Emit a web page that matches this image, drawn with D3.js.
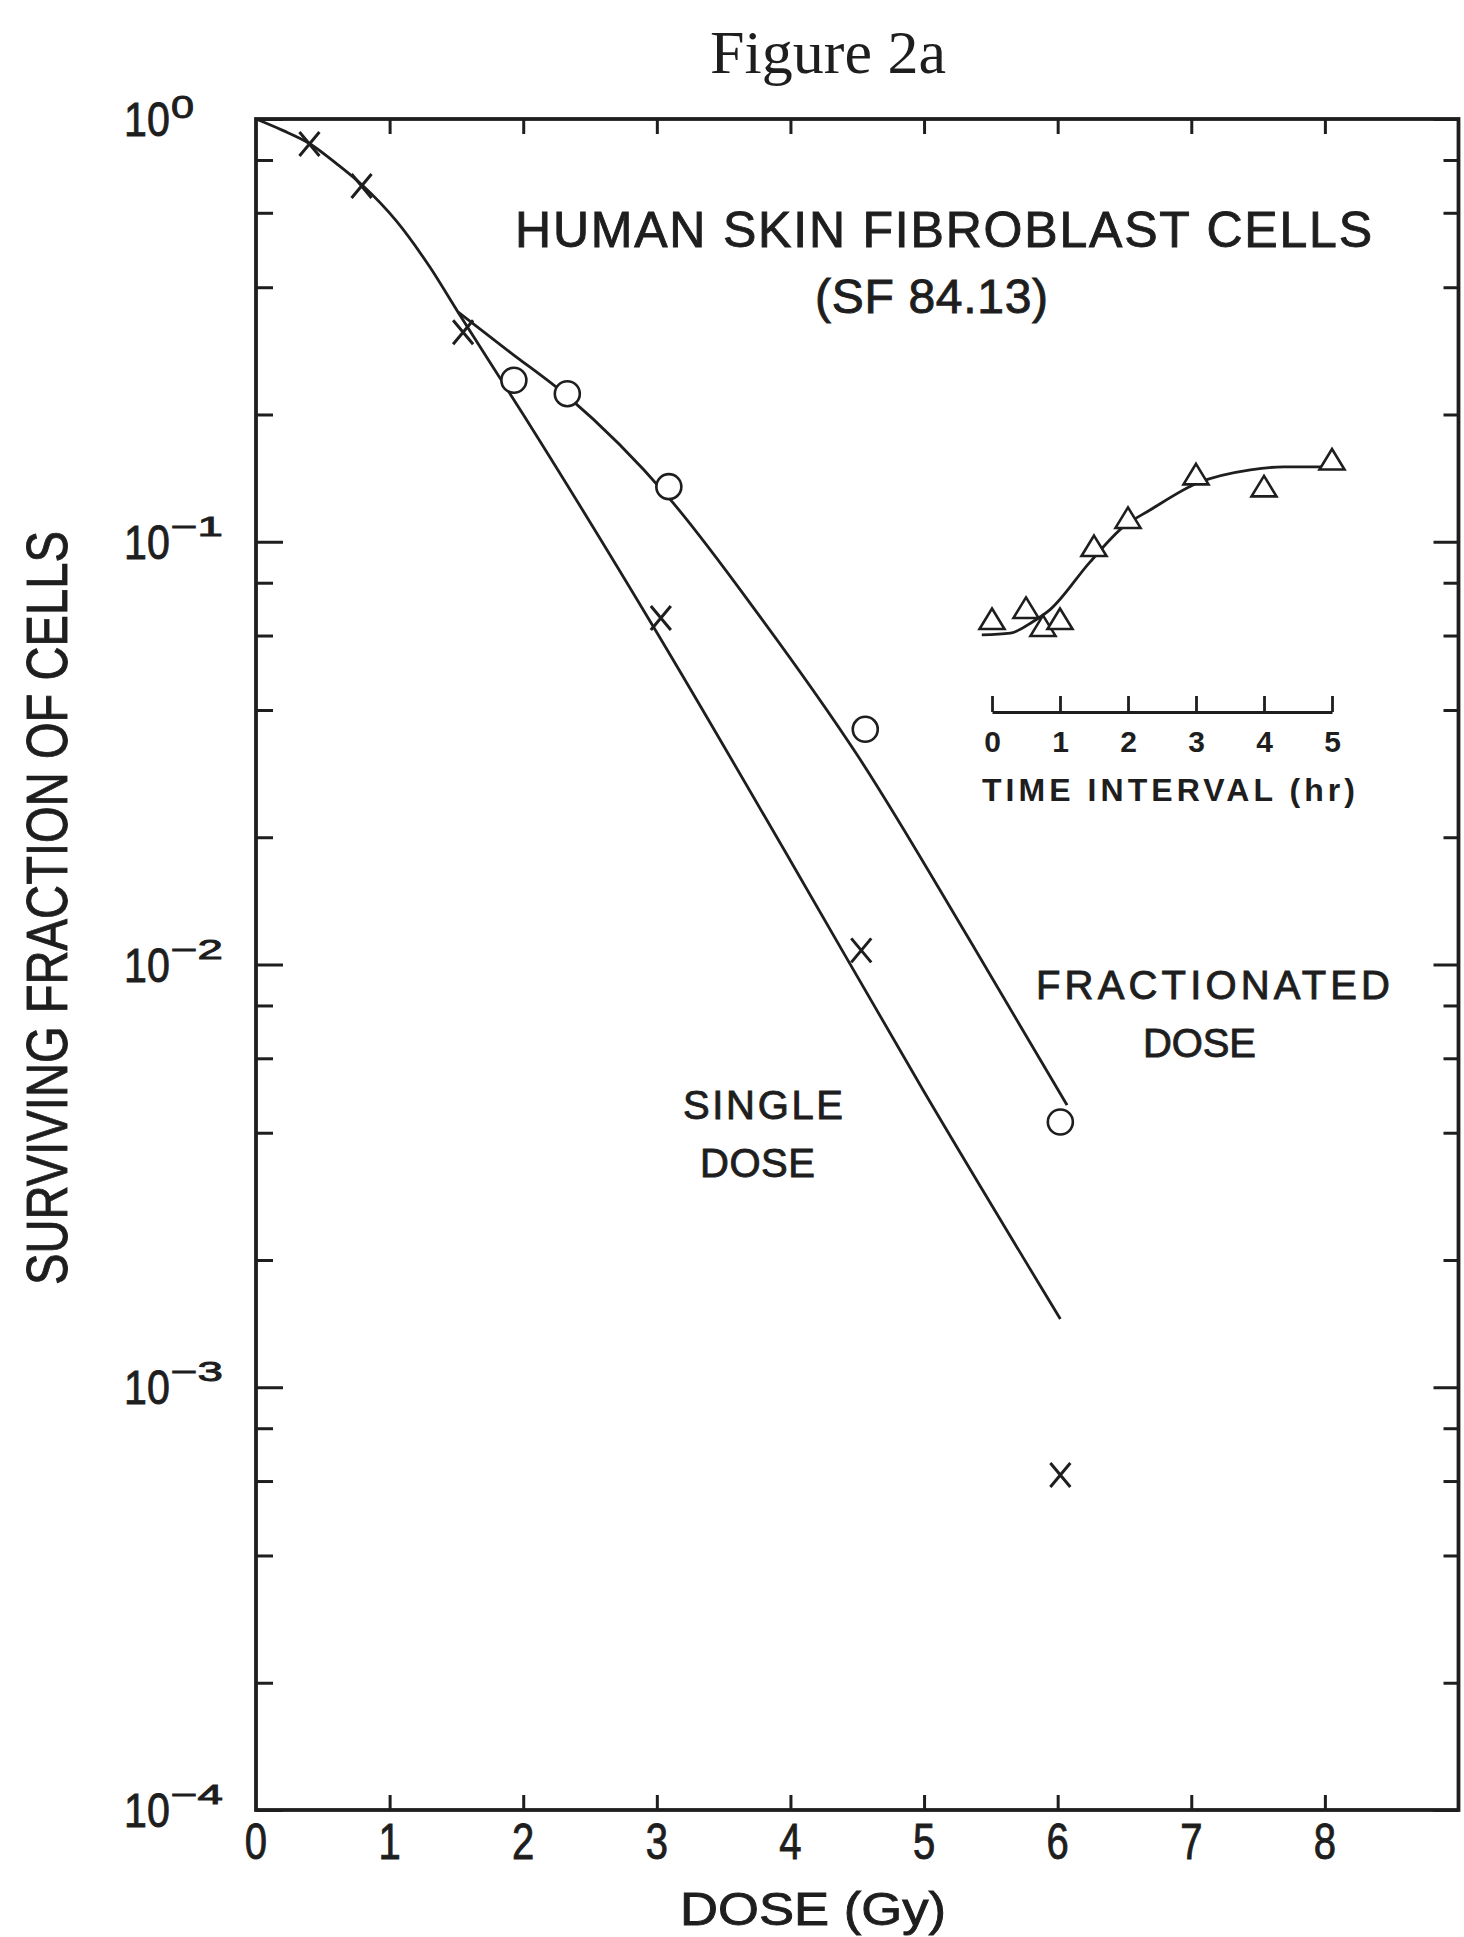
<!DOCTYPE html>
<html>
<head>
<meta charset="utf-8">
<script src="https://cdn.jsdelivr.net/npm/d3@7"></script>
<style>
  body { margin: 0; background: #fff; }
  svg { display: block; }
  text { fill: #1e1e1e; font-family: "Liberation Sans", Arial, sans-serif; }
  .heavy { stroke: #1e1e1e; stroke-width: 0.9; }
</style>
</head>
<body>
<svg id="chart" width="1464" height="1937"></svg>
<script>
// dose axis
const doseTicks = [0, 1, 2, 3, 4, 5, 6, 7, 8];
// surviving fraction axis (decades + exponent labels)
const sfMajor = [1, 1e-1, 1e-2, 1e-3, 1e-4];
const sfExponents = ["0", "\u22121", "\u22122", "\u22123", "\u22124"];
const minorSteps = [2, 4, 6, 8];

// single dose data (X marks)
const singleDose = [0.40, 0.79, 1.55, 3.03, 4.53, 6.02];
const singleSF = [0.873, 0.694, 0.313, 0.066, 0.0108, 0.00062];
// fractionated dose data (circles)
const fractDose = [1.93, 2.33, 3.09, 4.56, 6.02];
const fractSF = [0.241, 0.224, 0.135, 0.036, 0.00424];

// fitted curves
const singleCurveDose = [0, 0.2, 0.4, 0.6, 0.79, 1.05, 1.3, 1.51, 2.0, 3.0, 4.0, 5.0, 6.02];
const singleCurveSF = [1.0, 0.94, 0.875, 0.785, 0.70, 0.574, 0.447, 0.350, 0.20, 0.061, 0.0176, 0.0050, 0.00145];
const fractCurveDose = [1.51, 1.9, 2.33, 3.09, 3.75, 4.5, 5.35, 6.07];
const fractCurveSF = [0.350, 0.281, 0.221, 0.127, 0.068, 0.0313, 0.0113, 0.00465];

// inset: split dose vs time interval (triangles)
const insetTicks = [0, 1, 2, 3, 4, 5];
const insetTime = [0, 0.5, 0.75, 1.0, 1.5, 2, 3, 4, 5];
const insetSF = [0.0646, 0.0686, 0.0622, 0.0646, 0.0961, 0.112, 0.142, 0.133, 0.154];
const insetCurveTime = [-0.15, 0.27, 0.60, 0.85, 1.44, 1.93, 2.33, 3.02, 3.80, 4.29, 5.05];
const insetCurveSF = [0.0602, 0.0608, 0.0647, 0.069, 0.0895, 0.1084, 0.119, 0.1377, 0.148, 0.1503, 0.1503];

const ink = "#1e1e1e";
const plotLeft = 256, plotRight = 1458.5, plotTop = 119, plotBottom = 1810;

const svg = d3.select("#chart");

const x = d3.scaleLinear().domain([0, 9]).range([plotLeft, plotRight]);
const y = d3.scaleLog().domain([1e-4, 1]).range([plotBottom, plotTop]);

const sfMinor = [];
sfMajor.slice(1).forEach(d => minorSteps.forEach(m => sfMinor.push(d * m)));

function styleAxis(g) {
  g.select(".domain").remove();
  g.selectAll(".tick line").attr("stroke", ink).attr("stroke-width", 3);
}

// ticks on all four sides, pointing inward
svg.append("g").attr("transform", `translate(${plotLeft},0)`)
  .call(d3.axisLeft(y).tickValues(sfMajor).tickSize(-27).tickFormat("")).call(styleAxis);
svg.append("g").attr("transform", `translate(${plotLeft},0)`)
  .call(d3.axisLeft(y).tickValues(sfMinor).tickSize(-17).tickFormat("")).call(styleAxis);
svg.append("g").attr("transform", `translate(${plotRight},0)`)
  .call(d3.axisRight(y).tickValues(sfMajor).tickSize(-25).tickFormat("")).call(styleAxis);
svg.append("g").attr("transform", `translate(${plotRight},0)`)
  .call(d3.axisRight(y).tickValues(sfMinor).tickSize(-15).tickFormat("")).call(styleAxis);
svg.append("g").attr("transform", `translate(0,${plotBottom})`)
  .call(d3.axisBottom(x).tickValues(doseTicks.slice(1)).tickSize(-15).tickFormat("")).call(styleAxis);
svg.append("g").attr("transform", `translate(0,${plotTop})`)
  .call(d3.axisTop(x).tickValues(doseTicks.slice(1)).tickSize(-15).tickFormat("")).call(styleAxis);

// frame
svg.append("rect")
  .attr("x", plotLeft).attr("y", plotTop)
  .attr("width", plotRight - plotLeft).attr("height", plotBottom - plotTop)
  .attr("fill", "none").attr("stroke", ink).attr("stroke-width", 3.8);

// x tick labels (tall, narrow digits)
svg.append("g").selectAll("text")
  .data(doseTicks)
  .join("text")
  .attr("class", "heavy")
  .attr("transform", d => `translate(${x(d)},${plotBottom + 49}) scale(0.8,1)`)
  .attr("text-anchor", "middle")
  .attr("font-size", 50)
  .text(d => d);

// y tick labels 10^n
const yLab = svg.append("g").selectAll("g")
  .data(sfMajor)
  .join("g");
yLab.append("text")
  .attr("class", "heavy")
  .attr("transform", d => `translate(124,${y(d) + 17}) scale(0.84,1)`)
  .attr("font-size", 49)
  .text("10");
yLab.append("text")
  .attr("class", "heavy")
  .attr("x", 171)
  .attr("y", (d, i) => y(d) - (i === 0 ? 1 : 6))
  .attr("font-size", (d, i) => i === 0 ? 32 : 27)
  .attr("textLength", (d, i) => i === 0 ? 23 : 52)
  .attr("lengthAdjust", "spacingAndGlyphs")
  .text((d, i) => sfExponents[i]);

// axis titles
svg.append("text")
  .attr("class", "heavy")
  .attr("transform", "translate(67,908) rotate(-90)")
  .attr("text-anchor", "middle")
  .attr("font-size", 57)
  .attr("textLength", 754)
  .attr("lengthAdjust", "spacingAndGlyphs")
  .text("SURVIVING FRACTION OF CELLS");

svg.append("text")
  .attr("class", "heavy")
  .attr("x", 680).attr("y", 1925)
  .attr("font-size", 46)
  .attr("textLength", 266)
  .attr("lengthAdjust", "spacingAndGlyphs")
  .text("DOSE (Gy)");

// figure title
svg.append("text")
  .attr("x", 828).attr("y", 73)
  .attr("text-anchor", "middle")
  .style("font-family", "'Liberation Serif', 'Times New Roman', serif")
  .attr("font-size", 62)
  .text("Figure 2a");

// annotations
const notes = [
  { t: "HUMAN SKIN FIBROBLAST CELLS", x: 515, y: 247, s: 50, w: 857 },
  { t: "(SF 84.13)", x: 815, y: 313, s: 48, w: 233 },
  { t: "SINGLE", x: 683, y: 1119, s: 40, w: 160 },
  { t: "DOSE", x: 700, y: 1177, s: 40, w: 115 },
  { t: "FRACTIONATED", x: 1036, y: 999, s: 40, w: 354 },
  { t: "DOSE", x: 1143, y: 1057, s: 40, w: 113 }
];
svg.append("g").selectAll("text")
  .data(notes)
  .join("text")
  .attr("class", "heavy")
  .attr("x", d => d.x).attr("y", d => d.y)
  .attr("font-size", d => d.s)
  .attr("textLength", d => d.w)
  .attr("lengthAdjust", "spacing")
  .text(d => d.t);

// curves
const line = d3.line()
  .x(d => x(d[0]))
  .y(d => y(d[1]))
  .curve(d3.curveMonotoneX);

svg.append("path")
  .datum(singleCurveDose.map((d, i) => [d, singleCurveSF[i]]))
  .attr("d", line)
  .attr("fill", "none").attr("stroke", ink).attr("stroke-width", 2.8);

svg.append("path")
  .datum(fractCurveDose.map((d, i) => [d, fractCurveSF[i]]))
  .attr("d", line)
  .attr("fill", "none").attr("stroke", ink).attr("stroke-width", 2.8);

// X markers
svg.append("g").selectAll("path")
  .data(singleDose.map((d, i) => [d, singleSF[i]]))
  .join("path")
  .attr("transform", d => `translate(${x(d[0])},${y(d[1])})`)
  .attr("d", "M-10,-12L10,12M10,-12L-10,12")
  .attr("fill", "none").attr("stroke", ink).attr("stroke-width", 3);

// circle markers
svg.append("g").selectAll("circle")
  .data(fractDose.map((d, i) => [d, fractSF[i]]))
  .join("circle")
  .attr("cx", d => x(d[0]))
  .attr("cy", d => y(d[1]))
  .attr("r", 12.5)
  .attr("fill", "#fff").attr("stroke", ink).attr("stroke-width", 2.6);

// inset
const xi = d3.scaleLinear().domain([0, 5]).range([992, 1332]);
const insetAxisY = 712;

const insetAxis = svg.append("g")
  .attr("transform", `translate(0,${insetAxisY})`)
  .call(d3.axisBottom(xi).tickValues(insetTicks).tickSizeInner(-16).tickSizeOuter(0).tickPadding(19).tickFormat(d3.format("d")));
insetAxis.select(".domain").attr("stroke", ink).attr("stroke-width", 3.2);
insetAxis.selectAll(".tick line").attr("stroke", ink).attr("stroke-width", 2.8);
insetAxis.selectAll(".tick text")
  .attr("fill", ink)
  .attr("font-size", 30)
  .attr("font-weight", "bold")
  .attr("font-family", "'Liberation Sans', Arial, sans-serif");

svg.append("text")
  .attr("x", 982).attr("y", 801)
  .attr("font-size", 32)
  .attr("font-weight", "bold")
  .attr("textLength", 373)
  .attr("lengthAdjust", "spacing")
  .text("TIME INTERVAL (hr)");

const insetLine = d3.line()
  .x(d => xi(d[0]))
  .y(d => y(d[1]))
  .curve(d3.curveMonotoneX);

svg.append("path")
  .datum(insetCurveTime.map((d, i) => [d, insetCurveSF[i]]))
  .attr("d", insetLine)
  .attr("fill", "none").attr("stroke", ink).attr("stroke-width", 2.8);

svg.append("g").selectAll("path")
  .data(insetTime.map((d, i) => [d, insetSF[i]]))
  .join("path")
  .attr("transform", d => `translate(${xi(d[0])},${y(d[1])})`)
  .attr("d", "M0,-13.5L12.5,7L-12.5,7Z")
  .attr("fill", "#fff").attr("stroke", ink).attr("stroke-width", 2.6);
</script>
</body>
</html>
